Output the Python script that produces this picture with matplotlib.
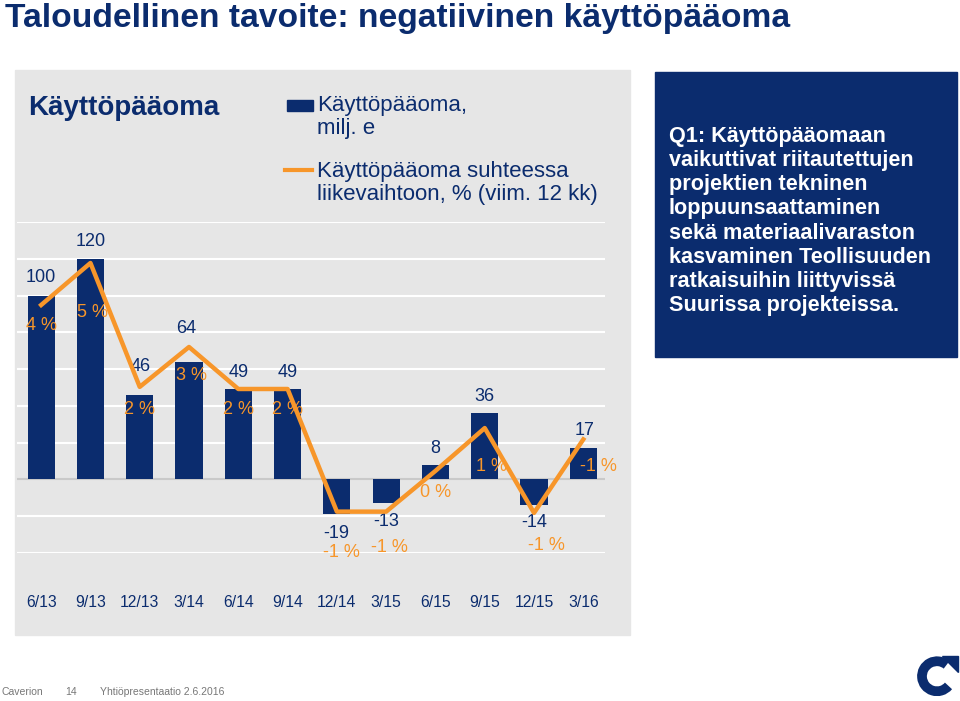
import matplotlib
matplotlib.use("Agg")
import matplotlib.pyplot as plt
from matplotlib.patches import Rectangle, Arc, Polygon

NAVY = "#0b2c6e"
ORANGE = "#f7962a"
GRAY = "#e6e6e6"

plt.rcParams['font.family'] = ['Liberation Sans', 'DejaVu Sans']

quarters = ["6/13", "9/13", "12/13", "3/14", "6/14", "9/14",
            "12/14", "3/15", "6/15", "9/15", "12/15", "3/16"]
capital = [100, 120, 46, 64, 49, 49, -19, -13, 8, 36, -14, 17]
capital_pct = [4.0, 5.0, 2.05, 3.0, 2.0, 2.0, -0.92, -0.92, 0.05, 1.07, -0.95, 0.8]
pct_labels = ["4 %", "5 %", "2 %", "3 %", "2 %", "2 %",
              "-1 %", "-1 %", "0 %", "1 %", "-1 %", "-1 %"]

# label nudges in pixels (hand placed in the original slide)
val_off = [(0, 18), (0, 17), (1, 28), (-3, 33), (0, 17), (0, 17),
           (-1, -19), (0, -18), (0, 16), (0, 17), (0, -17), (1, 18)]
pct_off = [(0, -21), (2, -50), (0, -23), (2, -29), (0, -21), (0, -21),
           (5, -41), (3, -36), (0, -22), (7, -38), (12, -33), (15, -27)]

W, H = 960, 701
fig = plt.figure(figsize=(W / 100, H / 100), dpi=100)


def fx(px):
    return px / W


def fy(py):
    return 1 - py / H


# gray panel and blue text box
fig.patches.append(Rectangle((fx(15), fy(635)), fx(615), (565) / H,
                             transform=fig.transFigure, color=GRAY, zorder=-2))
fig.patches.append(Rectangle((fx(655), fy(357)), fx(302), (285) / H,
                             transform=fig.transFigure, color=NAVY, zorder=-2))

fig.text(fx(5), fy(18), "Taloudellinen tavoite: negatiivinen käyttöpääoma",
         fontsize=24.2, fontweight="bold", color=NAVY, va="center")

fig.text(fx(28), fy(108), "Käyttöpääoma", fontsize=20, fontweight="bold",
         color=NAVY, va="center")

# legend, drawn by hand like the slide
fig.patches.append(Rectangle((fx(287), fy(111)), fx(26), 11 / H,
                             transform=fig.transFigure, color=NAVY))
fig.text(fx(317), fy(117), "Käyttöpääoma,\nmilj. e", fontsize=16,
         color=NAVY, va="center", linespacing=1.17)
fig.lines.append(plt.Line2D([fx(285), fx(312)], [fy(170), fy(170)],
                            transform=fig.transFigure, color=ORANGE, lw=3))
fig.text(fx(317), fy(183), "Käyttöpääoma suhteessa\nliikevaihtoon, % (viim. 12 kk)",
         fontsize=16, color=NAVY, va="center", linespacing=1.17)

box_text = ("Q1: Käyttöpääomaan\nvaikuttivat riitautettujen\nprojektien tekninen\n"
            "loppuunsaattaminen\nsekä materiaalivaraston\nkasvaminen Teollisuuden\n"
            "ratkaisuihin liittyvissä\nSuurissa projekteissa.")
fig.text(fx(669), fy(221), box_text, fontsize=15.6, fontweight="bold",
         color="white", va="center", linespacing=1.19)

# main chart
ax = fig.add_axes([fx(17), fy(553), fx(588), 331 / H])
ax.set_facecolor("none")
x = list(range(len(quarters)))
ax.bar(x, capital, width=0.55, color=NAVY, zorder=2)
ax.set_xlim(-0.49, 11.44)
ax.set_ylim(-40, 140)
for v in range(-40, 141, 20):
    ax.axhline(v, color="#c9c9c9" if v == 0 else "white", lw=1.5, zorder=1)
for s in ax.spines.values():
    s.set_visible(False)
ax.set_yticks([])
ax.set_xticks(x)
ax.set_xticklabels(quarters, fontsize=11.3, color=NAVY)
ax.tick_params(axis="x", length=0, pad=30)

for i, v in enumerate(capital):
    ax.annotate(str(v), (i, v), xytext=val_off[i], textcoords="offset pixels",
                ha="center", va="center", fontsize=13, color=NAVY,
                annotation_clip=False, zorder=5)

ax2 = ax.twinx()
ax2.set_ylim(-1.905, 5.976)
ax2.axis("off")
ax2.plot(x, capital_pct, color=ORANGE, lw=3.2, zorder=3)
for i, p in enumerate(capital_pct):
    ax2.annotate(pct_labels[i], (i, p), xytext=pct_off[i], textcoords="offset pixels",
                 ha="center", va="center", fontsize=13, color=ORANGE,
                 annotation_clip=False, zorder=5)

# footer
fig.text(fx(2), fy(692), "Caverion", fontsize=7.5, color="#777777", va="center")
fig.text(fx(65), fy(692), "14", fontsize=7.5, color="#777777", va="center")
fig.text(fx(100), fy(692), "Yhtiöpresentaatio 2.6.2016", fontsize=7.5,
         color="#777777", va="center")

# logo: arrow-shaped C
lax = fig.add_axes([fx(912), fy(700), fx(50), 50 / H])
lax.set_xlim(-1, 1)
lax.set_ylim(-1, 1)
lax.set_aspect("equal")
lax.axis("off")
lax.add_patch(Arc((0, -0.05), 1.2, 1.2, theta1=50, theta2=320, color=NAVY, lw=7))
lax.add_patch(Polygon([[0.18, 0.78], [0.82, 0.78], [0.82, 0.14]], color=NAVY))

fig.savefig("out.png", dpi=100)
